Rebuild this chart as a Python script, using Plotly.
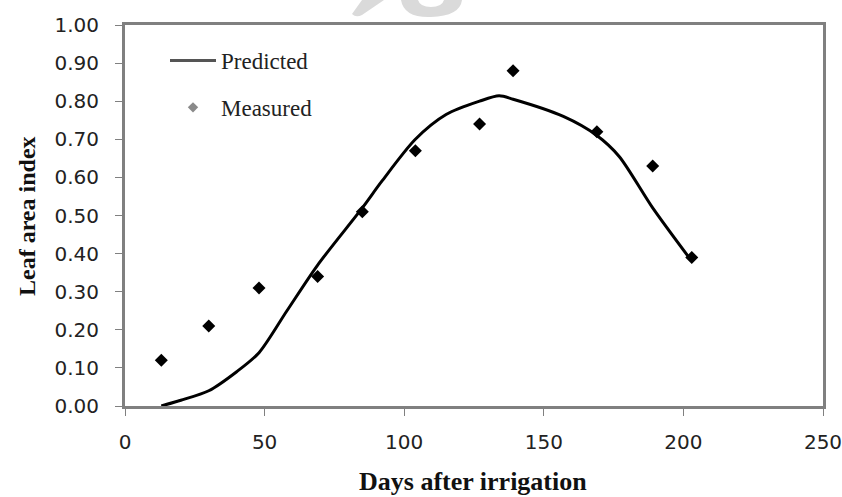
import plotly.graph_objects as go

# Measured leaf area index
meas_days = [13, 30, 48, 69, 85, 104, 127, 139, 169, 189, 203]
meas_lai = [0.12, 0.21, 0.31, 0.34, 0.51, 0.67, 0.74, 0.88, 0.72, 0.63, 0.39]

# Model-predicted leaf area index
pred_days = [13, 20, 30, 40, 48, 58, 69, 85, 92, 104, 115, 127, 134, 139, 157, 169, 177, 189, 203]
pred_lai = [0.00, 0.015, 0.04, 0.09, 0.14, 0.25, 0.37, 0.52, 0.59, 0.70, 0.765, 0.80, 0.814, 0.805,
            0.76, 0.71, 0.655, 0.52, 0.38]

x_ticks = [0, 50, 100, 150, 200, 250]
y_ticks = [0.0, 0.1, 0.2, 0.3, 0.4, 0.5, 0.6, 0.7, 0.8, 0.9, 1.0]

W, H = 842, 497
ML, MR, MT, MB = 125, 19, 25, 91
PW, PH = W - ML - MR, H - MT - MB


def px(x):
    return (x - ML) / PW


def py(y):
    return (H - MB - y) / PH


tick_font = dict(family="DejaVu Sans", size=20, color="#222222")
serif = "Liberation Serif"

fig = go.Figure()

fig.add_trace(go.Scatter(
    x=pred_days, y=pred_lai, mode="lines",
    line=dict(color="black", width=3, shape="spline", smoothing=0.8),
    showlegend=False, hoverinfo="x+y",
))
fig.add_trace(go.Scatter(
    x=meas_days, y=meas_lai, mode="markers",
    marker=dict(symbol="diamond", size=10, color="black"),
    showlegend=False, hoverinfo="x+y",
))

# legend entries
fig.add_trace(go.Scatter(
    x=[None], y=[None], mode="lines", name="Predicted",
    line=dict(color="#555555", width=3), legendgroup="p",
))
fig.add_trace(go.Scatter(
    x=[None], y=[None], mode="markers", name="Measured",
    marker=dict(symbol="diamond", size=8, color="#8a8a8a"), legendgroup="m",
))

axis_common = dict(
    showline=True, mirror=True, linecolor="#808080", linewidth=3,
    ticks="outside", ticklen=7, tickwidth=1, tickcolor="#808080",
    showgrid=False, zeroline=False, tickfont=tick_font,
    ticklabeloverflow="allow", automargin=False,
)

fig.update_xaxes(range=[0, 250], tickvals=x_ticks, ticklabelstandoff=9, **axis_common)
fig.update_yaxes(range=[0, 1.0], tickvals=y_ticks, tickformat=".2f", ticklabelstandoff=12,
                 **axis_common)

# faint logo mark along the top edge
shapes = [
    dict(type="path", xref="paper", yref="paper", layer="below",
         path=(f"M {px(352)},{py(14)} Q {px(356)},{py(18)} {px(362)},{py(15)} "
               f"L {px(384)},{py(0)} L {px(362)},{py(0)} Z"),
         fillcolor="#dadada", line=dict(width=0)),
    dict(type="path", xref="paper", yref="paper", layer="below",
         path=(f"M {px(401)},{py(0)} Q {px(404)},{py(18)} {px(431)},{py(17)} "
               f"Q {px(460)},{py(16)} {px(462)},{py(0)} L {px(444)},{py(0)} "
               f"Q {px(442)},{py(7)} {px(431)},{py(7)} Q {px(420)},{py(7)} {px(418)},{py(0)} Z"),
         fillcolor="#dadada", line=dict(width=0)),
]

fig.update_layout(
    template="none",
    width=W, height=H,
    margin=dict(l=ML, r=MR, t=MT, b=MB, pad=0),
    paper_bgcolor="white", plot_bgcolor="white",
    shapes=shapes,
    legend=dict(
        x=px(165), y=py(39), xanchor="left", yanchor="top",
        font=dict(family=serif, size=23, color="#222222"),
        traceorder="grouped", tracegroupgap=14, itemwidth=46,
        bgcolor="rgba(0,0,0,0)", borderwidth=0,
    ),
    annotations=[
        dict(text="Leaf area index", textangle=-90, xref="paper", yref="paper",
             x=px(27), y=py(216), xanchor="center", yanchor="middle", showarrow=False,
             font=dict(family=serif, size=24, color="#111111", weight="bold")),
        dict(text="Days after irrigation", xref="paper", yref="paper",
             x=px(473), y=py(481), xanchor="center", yanchor="middle", showarrow=False,
             font=dict(family=serif, size=26, color="#111111", weight="bold")),
    ],
)

fig.write_html("out.html")
